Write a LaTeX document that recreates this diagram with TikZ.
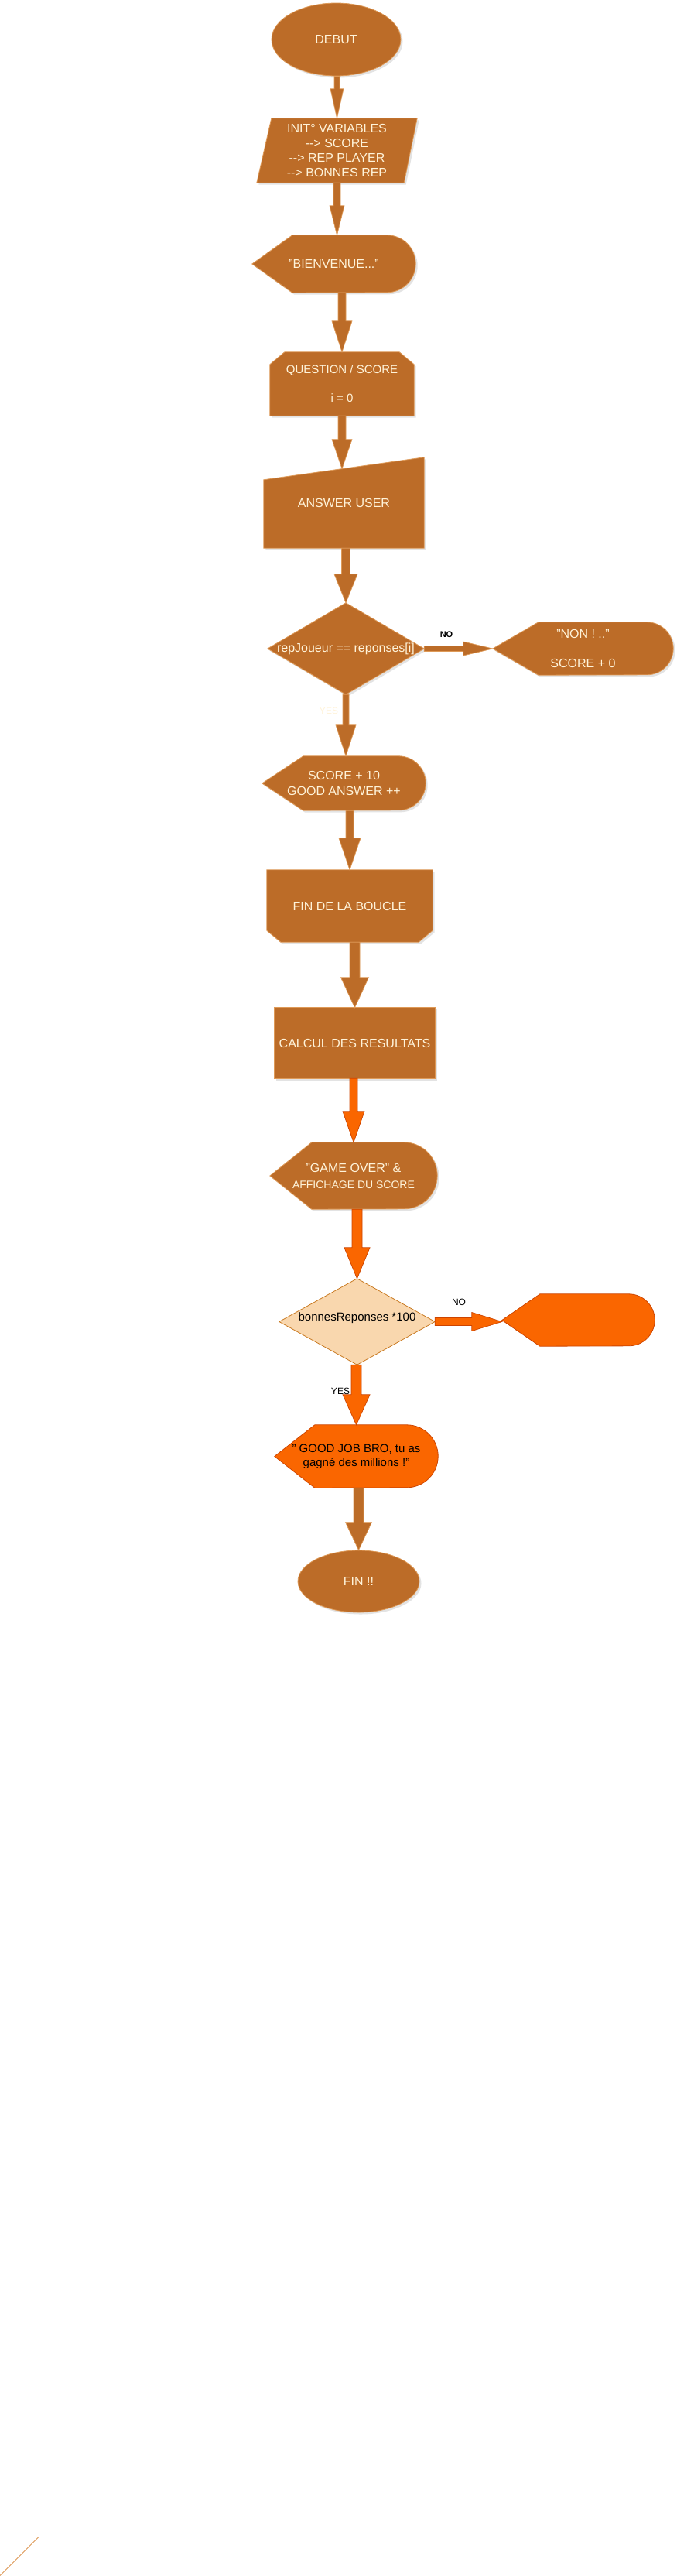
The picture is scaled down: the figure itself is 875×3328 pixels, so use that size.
\documentclass[tikz,border=0pt]{standalone}
\usepackage{fontspec}
\setmainfont{Liberation Sans}
\usetikzlibrary{calc,shapes.geometric,shadows,backgrounds}
\definecolor{brn}{HTML}{BC6C28}
\definecolor{brnline}{HTML}{DE9A58}
\definecolor{cream}{HTML}{FFF3D9}
\definecolor{org}{HTML}{FA6600}
\definecolor{orgline}{HTML}{CC4400}
\definecolor{peach}{HTML}{F9D7AE}
\definecolor{peachline}{HTML}{C97A22}
% display shape: node, slant, radius, style
\newcommand{\dispshape}[4]{%
  \path[#4] (#1.west) -- ($(#1.north west)+(#2,0)$) -- ($(#1.north east)+(-#3,0)$)
    arc[start angle=90,end angle=-90,radius=#3pt] -- ($(#1.south west)+(#2,0)$) -- cycle;}
% vertical arrow: from, to, shaft, head width, head length, style
\newcommand{\darrow}[6]{%
  \path[#6] let \p1=(#1), \p2=(#2) in
    (\x2-0.5*#3pt,\y1) -- (\x2+0.5*#3pt,\y1) -- (\x2+0.5*#3pt,\y2+#5pt) -- (\x2+0.5*#4pt,\y2+#5pt)
    -- (\x2,\y2) -- (\x2-0.5*#4pt,\y2+#5pt) -- (\x2-0.5*#3pt,\y2+#5pt) -- cycle;}
% horizontal arrow
\newcommand{\harrow}[6]{%
  \path[#6] let \p1=(#1), \p2=(#2) in
    (\x1,\y1+0.5*#3pt) -- (\x2-#5pt,\y1+0.5*#3pt) -- (\x2-#5pt,\y1+0.5*#4pt) -- (\x2,\y1)
    -- (\x2-#5pt,\y1-0.5*#4pt) -- (\x2-#5pt,\y1-0.5*#3pt) -- (\x1,\y1-0.5*#3pt) -- cycle;}
\begin{document}
\begin{tikzpicture}[x=1pt,y=-1pt,
  every node/.style={inner sep=0pt, align=center},
  txt/.style={text=cream, font=\fontsize{16}{19.2}\selectfont},
  shp/.style={fill=brn, draw=brnline, line width=0.8pt,
    drop shadow={shadow xshift=2.5pt, shadow yshift=-2.5pt, opacity=0.22}},
  oshp/.style={fill=org, draw=orgline, line width=0.8pt},
  dshp/.style={fill=peach, draw=peachline, line width=0.8pt},
  barrow/.style={fill=brn, draw=brnline, line width=0.7pt},
  oarrow/.style={fill=org, draw=orgline, line width=0.7pt},
  small/.style={font=\fontsize{12}{14}\selectfont}]
\useasboundingbox (0,0) rectangle (875,3328);

% nodes
\node[ellipse, shp, txt, minimum width=167pt, minimum height=94pt] (debut) at (434.5,51) {DEBUT};
\node[txt, minimum width=207pt, minimum height=83pt] (init) at (435.5,194.5)
  {INIT° VARIABLES\\-{}-{}> SCORE\\-{}-{}> REP PLAYER\\-{}-{}> BONNES REP};
\node[txt, minimum width=211pt, minimum height=74pt] (bienv) at (431.5,341) {"BIENVENUE..."};
\node[txt, font=\fontsize{15}{18.5}\selectfont, minimum width=186pt, minimum height=82pt] (question) at (442,496)
  {QUESTION / SCORE\\[18.5pt]i = 0};
\node[txt, minimum width=207pt, minimum height=117pt] (answer) at (444.5,649.5) {ANSWER USER};
\coordinate (ansTL) at ($(answer.north west)+(0,29)$);
\coordinate (ansIn) at ($(ansTL)!0.488!(answer.north east)$);
\node[txt, minimum width=202pt, minimum height=118pt] (dec1) at (447,838) {repJoueur == reponses[i]};
\node[txt, minimum width=233pt, minimum height=68pt] (non) at (753.5,838) {"NON ! .."\\[18pt]SCORE + 0};
\node[txt, font=\fontsize{16}{20}\selectfont, minimum width=211pt, minimum height=70pt] (score10) at (444.5,1012)
  {SCORE + 10\\GOOD ANSWER ++};
\node[txt, minimum width=214pt, minimum height=93pt] (boucle) at (452,1170.5) {FIN DE LA BOUCLE};
\node[txt, minimum width=207pt, minimum height=91pt] (calcul) at (458.5,1347.5) {CALCUL DES RESULTATS};
\node[txt, minimum width=216pt, minimum height=86pt] (gameover) at (457,1519)
  {"GAME OVER" \&\\[1.8pt]{\fontsize{14}{17}\selectfont AFFICHAGE DU SCORE}};
\node[font=\fontsize{15}{18}\selectfont, text depth=13pt, minimum width=201pt, minimum height=111pt] (dec2) at (461.5,1707.5)
  {bonnesReponses *100};
\node[minimum width=197pt, minimum height=67pt] (onode) at (747.5,1705.5) {};
\node[font=\fontsize{15}{18}\selectfont, minimum width=211pt, minimum height=81pt] (goodjob) at (460.5,1881.5)
  {" GOOD JOB BRO, tu as\\gagné des millions !"};
\node[ellipse, shp, txt, minimum width=157pt, minimum height=80pt] (fin) at (463.5,2043) {FIN !!};

% labels
\node[font=\bfseries\fontsize{11}{13}\selectfont] (no1) at (577,820) {NO};
\node[small, text=cream] (yes1) at (425,918) {YES};
\node[small] (no2) at (593,1682) {NO};
\node[small] (yes2) at (440,1797) {YES};

% shapes
\begin{scope}[on background layer]
  \fill[white] (0,0) rectangle (875,3328);
  \path[shp] ($(init.north west)+(19,0)$) -- (init.north east) -- ($(init.south east)+(-17,0)$) -- (init.south west) -- cycle;
  \dispshape{bienv}{52}{37}{shp}
  \path[shp] (question.south west) -- ($(question.north west)+(0,16)$) -- ($(question.north west)+(19,0)$)
    -- ($(question.north east)+(-19,0)$) -- ($(question.north east)+(0,16)$) -- (question.south east) -- cycle;
  \path[shp] (answer.south west) -- (ansTL) -- (answer.north east) -- (answer.south east) -- cycle;
  \path[shp] (dec1.north) -- (dec1.east) -- (dec1.south) -- (dec1.west) -- cycle;
  \dispshape{non}{59}{34}{shp}
  \dispshape{score10}{53}{35}{shp}
  \path[shp] (boucle.north west) -- (boucle.north east) -- ($(boucle.south east)+(0,-15)$) -- ($(boucle.south east)+(-18,0)$)
    -- ($(boucle.south west)+(18,0)$) -- ($(boucle.south west)+(0,-15)$) -- cycle;
  \path[shp] (calcul.north west) rectangle (calcul.south east);
  \dispshape{gameover}{54}{43}{shp}
  \path[dshp] (dec2.north) -- (dec2.east) -- (dec2.south) -- (dec2.west) -- cycle;
  \dispshape{onode}{49}{33.5}{oshp}
  \dispshape{goodjob}{52}{40.5}{oshp}
\end{scope}

% connectors
\darrow{debut.south}{init.north}{7}{17}{38}{barrow}
\darrow{init.south}{init.south |- bienv.north}{9}{19}{38}{barrow}
\darrow{bienv.south}{question.north}{10}{26}{40}{barrow}
\darrow{question.south}{ansIn}{10}{26}{38}{barrow}
\darrow{answer.south}{dec1.north}{11}{30}{37}{barrow}
\harrow{dec1.east}{non.west}{7}{18}{38}{barrow}
\darrow{dec1.south}{dec1.south |- score10.north}{8}{26}{40}{barrow}
\darrow{score10.south}{boucle.north}{10}{28}{41}{barrow}
\darrow{boucle.south}{calcul.north}{13}{36}{39}{barrow}
\darrow{calcul.south}{gameover.north}{10}{28}{40}{oarrow}
\darrow{gameover.south}{dec2.north}{13}{33}{40}{oarrow}
\harrow{dec2.east}{onode.west}{10}{24}{39}{oarrow}
\darrow{dec2.south}{goodjob.north}{13}{35}{39}{oarrow}
\darrow{goodjob.south}{fin.north}{13}{34}{36}{barrow}

\draw[brnline, line width=1pt] (0,3327.5) -- (50,3277.5);
\end{tikzpicture}
\end{document}
